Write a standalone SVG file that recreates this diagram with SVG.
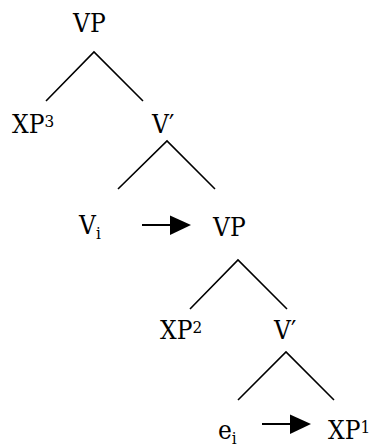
<svg xmlns="http://www.w3.org/2000/svg" width="374" height="448" viewBox="0 0 374 448">
<style>
.t{font-family:"DejaVu Serif Condensed","DejaVu Serif","Liberation Serif",serif;font-stretch:condensed;font-size:26px;fill:#000}
.s{font-size:17px}
.e{stroke:#000;stroke-width:1.6;fill:none}
.a{stroke:#000;stroke-width:2;fill:none}
.h{fill:#000}
</style>
<rect width="374" height="448" fill="#fff"/>
<g id="connectors">
<polyline class="e" points="46,101 94,52 143,101"/>
<polyline class="e" points="118,189 167,141 215,189"/>
<polyline class="e" points="190,309 238,260 287,309"/>
<polyline class="e" points="238,400 286,352 334,400"/>
<line class="a" x1="142" y1="225" x2="172" y2="225"/>
<polygon class="h" points="170,215.5 191,225 170,235"/>
<line class="a" x1="262" y1="424" x2="292" y2="424"/>
<polygon class="h" points="290,414.5 311,424 290,434"/>
</g>
<g id="vp1"><text class="t" x="73" y="32">VP</text></g>
<g id="xp3"><text class="t" x="12" y="133">XP<tspan class="s" dy="-6">3</tspan></text></g>
<g id="vbar1"><text class="t" x="152" y="133">V′</text></g>
<g id="vi"><text class="t" x="79" y="234">V<tspan class="s" dy="5">i</tspan></text></g>
<g id="vp2"><text class="t" x="213" y="236">VP</text></g>
<g id="xp2"><text class="t" x="160" y="339">XP<tspan class="s" dy="-6">2</tspan></text></g>
<g id="vbar2"><text class="t" x="274" y="339">V′</text></g>
<g id="ei"><text class="t" x="218" y="439">e<tspan class="s" dy="5">i</tspan></text></g>
<g id="xp1"><text class="t" x="328" y="439">XP<tspan class="s" dy="-6">1</tspan></text></g>
</svg>
